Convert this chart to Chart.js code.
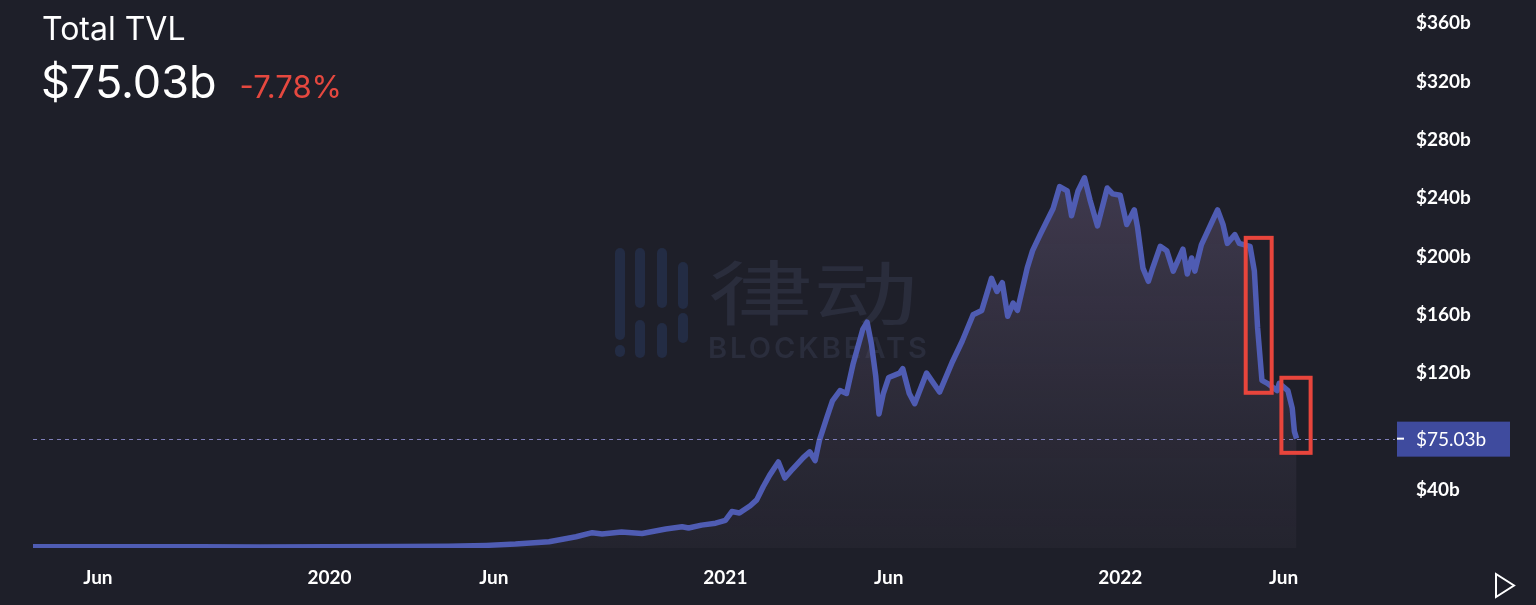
<!DOCTYPE html>
<html>
<head>
<meta charset="utf-8">
<script src="https://cdn.jsdelivr.net/npm/chart.js@4.4.1/dist/chart.umd.min.js"></script>
<style>
  html, body { margin: 0; padding: 0; background: #1e1f29; }
  #wrap { position: relative; width: 1536px; height: 605px; overflow: hidden; }
  #tvlChart { position: absolute; left: 0; top: 0; }
  #title { position: absolute; left: 42px; top: 13px; font-family: Inter, sans-serif; font-size: 32px; line-height: 32px; color: #fff; }
  #headline { position: absolute; left: 41px; top: 59px; display: flex; align-items: baseline; font-family: Inter, sans-serif; color: #fff; }
  #value { font-size: 45px; line-height: 45px; }
  #change { font-size: 31px; margin-left: 23px; color: #e5483f; }
</style>
</head>
<body>
<div id="wrap">
  <canvas id="tvlChart" width="1536" height="605"></canvas>
  <div id="title">Total TVL</div>
  <div id="headline"><span id="value">$75.03b</span><span id="change">-7.78%</span></div>
</div>
<script>
const dates = [
  "2019-04-02", "2019-06-02", "2019-09-03", "2019-10-29", "2020-01-01", "2020-03-05",
  "2020-04-20", "2020-05-25", "2020-06-21", "2020-07-22", "2020-08-16", "2020-08-31",
  "2020-09-09", "2020-09-27", "2020-10-16", "2020-11-07", "2020-11-22", "2020-11-28",
  "2020-12-10", "2020-12-23", "2021-01-01", "2021-01-07", "2021-01-14", "2021-01-24",
  "2021-01-30", "2021-02-05", "2021-02-11", "2021-02-19", "2021-02-25", "2021-03-04",
  "2021-03-14", "2021-03-20", "2021-03-25", "2021-03-29", "2021-04-05", "2021-04-10",
  "2021-04-17", "2021-04-23", "2021-04-29", "2021-05-08", "2021-05-12", "2021-05-16",
  "2021-05-20", "2021-05-23", "2021-05-27", "2021-06-01", "2021-06-11", "2021-06-14",
  "2021-06-20", "2021-06-25", "2021-07-06", "2021-07-18", "2021-07-30", "2021-08-08",
  "2021-08-18", "2021-08-26", "2021-09-04", "2021-09-09", "2021-09-14", "2021-09-19",
  "2021-09-24", "2021-09-28", "2021-10-07", "2021-10-12", "2021-10-19", "2021-10-25",
  "2021-10-31", "2021-11-06", "2021-11-13", "2021-11-17", "2021-11-23", "2021-11-29",
  "2021-12-04", "2021-12-11", "2021-12-20", "2021-12-25", "2022-01-01", "2022-01-07",
  "2022-01-14", "2022-01-17", "2022-01-22", "2022-01-27", "2022-01-31", "2022-02-07",
  "2022-02-13", "2022-02-19", "2022-02-28", "2022-03-04", "2022-03-08", "2022-03-11",
  "2022-03-17", "2022-03-27", "2022-04-01", "2022-04-06", "2022-04-10", "2022-04-17",
  "2022-04-21", "2022-05-01", "2022-05-05", "2022-05-08", "2022-05-12", "2022-05-17",
  "2022-05-26", "2022-05-28", "2022-06-05", "2022-06-09", "2022-06-11", "2022-06-13"
];
const tvl = [
  0.8, 0.9, 0.8, 0.7, 0.8, 1.0,
  1.2, 1.8, 2.7, 4.3, 7.7, 10.5,
  9.6, 11, 10, 13, 14.6, 13.7,
  15.7, 17, 19, 25, 24, 29,
  33, 42, 50, 59, 48, 54,
  62, 66, 60, 74, 90, 101,
  108, 106, 126, 150, 155, 140,
  118, 92, 106, 117, 120, 123,
  106, 99, 120, 107, 128, 142,
  160, 163, 185, 176, 182, 159,
  168, 163, 192, 204, 215, 224,
  233, 248, 245, 228, 245, 254,
  239, 221, 247, 243, 242, 222,
  232, 220, 192, 183, 192, 207,
  204, 190, 205, 188, 199, 190,
  208, 224, 232, 222, 209, 215,
  209, 207, 190, 151, 115, 113,
  108, 113, 108, 96, 80, 75.03
];

const xTickDates = ["2019-06-01", "2020-01-01", "2020-06-01", "2021-01-01", "2021-06-01", "2022-01-01", "2022-06-01"];
const xTickLabels = ["Jun", "2020", "Jun", "2021", "Jun", "2022", "Jun"];
const yTicks = [40, 120, 160, 200, 240, 280, 320, 360];

// red highlight boxes (date range + value range)
const boxFrom = ["2022-04-27", "2022-05-30"];
const boxTo = ["2022-05-21", "2022-06-26"];
const boxLow = [106.5, 65.3];
const boxHigh = [212.8, 116.8];

const currentValue = tvl[tvl.length - 1];
const tickFont = { family: "Lato, sans-serif", size: 19, weight: "bold" };

function dayNum(s) {
  return Date.parse(s) / 86400000;
}

const points = dates.map((d, i) => ({ x: dayNum(d), y: tvl[i] }));

const overlay = {
  id: "overlay",
  beforeDatasetsDraw(chart) {
    const c = chart.ctx;
    c.save();
    // faint BlockBeats watermark
    c.fillStyle = "#232c44";
    const bars = [[615, 248, 92], [615, 345, 12], [635, 248, 60], [635, 320, 38], [657, 248, 60], [657, 323, 35], [678, 262, 47], [678, 313, 30]];
    bars.forEach(b => {
      c.beginPath();
      c.roundRect(b[0], b[1], 10, b[2], 5);
      c.fill();
    });
    c.fillStyle = "#2a2d3c";
    c.save();
    c.translate(708, 320);
    c.scale(1.5, 1);
    c.font = "400 70px 'Noto Sans CJK SC'";
    c.textBaseline = "alphabetic";
    c.fillText("律动", 0, 0);
    c.restore();
    c.font = "600 29px Inter, sans-serif";
    c.letterSpacing = "3px";
    c.fillText("BLOCKBEATS", 708, 358);
    c.restore();
  },
  afterDatasetsDraw(chart) {
    const c = chart.ctx;
    const x = chart.scales.x;
    const y = chart.scales.y;
    const area = chart.chartArea;
    const yv = Math.round(y.getPixelForValue(currentValue)) + 0.5;
    c.save();
    c.strokeStyle = "#7e7eb8";
    c.lineWidth = 1;
    c.setLineDash([4, 4]);
    c.beginPath();
    c.moveTo(area.left, yv);
    c.lineTo(area.right, yv);
    c.stroke();
    c.setLineDash([]);
    c.strokeStyle = "#e8453c";
    c.lineWidth = 4;
    boxFrom.forEach((f, i) => {
      const x1 = x.getPixelForValue(dayNum(f));
      const x2 = x.getPixelForValue(dayNum(boxTo[i]));
      const y1 = y.getPixelForValue(boxHigh[i]);
      const y2 = y.getPixelForValue(boxLow[i]);
      c.strokeRect(x1, y1, x2 - x1, y2 - y1);
    });
    c.restore();
  },
  afterDraw(chart) {
    const c = chart.ctx;
    const area = chart.chartArea;
    const yv = chart.scales.y.getPixelForValue(currentValue);
    c.save();
    c.fillStyle = "#3f4b9e";
    c.fillRect(area.right + 2, yv - 17, 113, 35);
    c.fillStyle = "#ffffff";
    c.fillRect(area.right + 2, yv - 1, 7, 2);
    c.font = "19px Lato, sans-serif";
    c.textBaseline = "middle";
    c.fillText("$" + currentValue.toFixed(2) + "b", area.right + 21, yv + 1);
    // play triangle
    c.strokeStyle = "#ffffff";
    c.lineWidth = 2;
    c.beginPath();
    c.moveTo(1496, 574);
    c.lineTo(1496, 597);
    c.lineTo(1514, 585.5);
    c.closePath();
    c.stroke();
    c.restore();
  }
};

new Chart(document.getElementById("tvlChart"), {
  type: "line",
  data: {
    datasets: [{
      data: points,
      borderColor: "#4f5cb3",
      borderWidth: 5.5,
      borderJoinStyle: "round",
      pointRadius: 0,
      tension: 0,
      fill: "origin",
      backgroundColor: (context) => {
        const area = context.chart.chartArea;
        if (!area) return "rgba(80,70,100,0.3)";
        const g = context.chart.ctx.createLinearGradient(0, 180, 0, area.bottom);
        g.addColorStop(0, "rgba(110,95,130,0.42)");
        g.addColorStop(1, "rgba(55,52,66,0.25)");
        return g;
      }
    }]
  },
  options: {
    responsive: false,
    animation: false,
    layout: { padding: { left: 33, top: 0, right: 0, bottom: 0 } },
    plugins: { legend: { display: false }, tooltip: { enabled: false } },
    scales: {
      x: {
        type: "linear",
        min: dayNum("2019-04-02"),
        max: dayNum("2022-09-12"),
        grid: { display: false, drawTicks: false },
        border: { display: false },
        afterBuildTicks: (s) => { s.ticks = xTickDates.map(d => ({ value: dayNum(d) })); },
        afterFit: (s) => { s.height = 57; s.paddingLeft = 0; s.paddingRight = 0; },
        ticks: {
          autoSkip: false,
          maxRotation: 0,
          padding: 18,
          color: "#ffffff",
          font: tickFont,
          callback: (v, i) => xTickLabels[i]
        }
      },
      y: {
        position: "right",
        min: 0,
        max: 376,
        grid: { display: false, drawTicks: false },
        border: { display: false },
        afterBuildTicks: (s) => { s.ticks = yTicks.map(v => ({ value: v })); },
        afterFit: (s) => { s.width = 141; s.paddingTop = 0; s.paddingBottom = 0; },
        ticks: {
          padding: 21,
          color: "#ffffff",
          font: tickFont,
          callback: (v) => "$" + v + "b"
        }
      }
    }
  },
  plugins: [overlay]
});
</script>
</body>
</html>
